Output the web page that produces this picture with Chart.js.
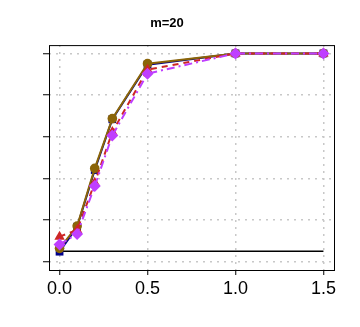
<!DOCTYPE html>
<html>
<head>
<meta charset="utf-8">
<script src="https://cdn.jsdelivr.net/npm/chart.js@4/dist/chart.umd.min.js"></script>
<style>
  html, body { margin: 0; padding: 0; background: #fff; }
  #wrap { width: 360px; height: 327px; }
</style>
</head>
<body>
<div id="wrap"><canvas id="chart" width="360" height="327"></canvas></div>
<script>
// values
const effectSizes = [0, 0.1, 0.2, 0.3, 0.5, 1.0, 1.5];
const blueSeries = [0.048, 0.168, 0.44, 0.684, 0.946, 1.0, 1.0];
const brownSeries = [0.064, 0.171, 0.448, 0.687, 0.951, 1.0, 1.0];
const redSeries = [0.12, 0.152, 0.379, 0.623, 0.922, 1.0, 1.0];
const purpleSeries = [0.083, 0.133, 0.363, 0.606, 0.903, 1.0, 1.0];
const alphaLevel = 0.05;
const xTicks = [0, 0.5, 1.0, 1.5];
const yTicks = [0, 0.2, 0.4, 0.6, 0.8, 1.0];

function toPoints(values) {
    return values.map((v, i) => ({ x: effectSizes[i], y: v }));
}

// box around the plotting region, like base R
const boxPlugin = {
    id: 'box',
    afterDraw(chart) {
        const a = chart.chartArea;
        const ctx = chart.ctx;
        ctx.save();
        ctx.strokeStyle = '#000';
        ctx.lineWidth = 1;
        ctx.strokeRect(a.left + 0.5, a.top + 0.5, a.right - a.left, a.bottom - a.top);
        ctx.restore();
    }
};

function series(data, color, shape, radius, dash, order) {
    return {
        data: toPoints(data),
        borderColor: color,
        backgroundColor: color,
        borderWidth: 2,
        borderDash: dash,
        pointStyle: shape,
        pointRadius: radius,
        pointBorderWidth: 0,
        pointBackgroundColor: color,
        order: order,
        tension: 0
    };
}

new Chart(document.getElementById('chart'), {
    type: 'line',
    data: {
        datasets: [
            {
                data: [{ x: effectSizes[0], y: alphaLevel }, { x: effectSizes[effectSizes.length - 1], y: alphaLevel }],
                borderColor: '#000',
                borderWidth: 1.5,
                pointRadius: 0,
                order: 5
            },
            series(blueSeries, '#00008B', 'rect', 5.5, [], 4),
            series(brownSeries, '#8B6508', 'circle', 4.8, [], 3),
            series(redSeries, '#CD2626', 'triangle', 6, [6, 5], 2),
            series(purpleSeries, '#BF3EFF', 'rectRot', 6, [8, 4, 2, 4], 1)
        ]
    },
    options: {
        responsive: false,
        animation: false,
        layout: { padding: { left: 0, right: 26, top: 0, bottom: 0 } },
        plugins: {
            legend: { display: false },
            tooltip: { enabled: false },
            title: {
                display: true,
                text: 'm=20',
                color: '#000',
                font: { family: 'Liberation Sans', size: 13, weight: 'bold' },
                padding: { top: 16, bottom: 13.5 }
            }
        },
        scales: {
            x: {
                type: 'linear',
                min: -0.06,
                max: 1.56,
                afterBuildTicks: s => { s.ticks = xTicks.map(v => ({ value: v })); },
                afterFit: s => { s.height = 57; },
                border: { display: false, dash: [2, 5] },
                grid: {
                    color: '#c8c8c8',
                    lineWidth: 1.5,
                    drawTicks: true,
                    tickLength: 5,
                    tickColor: '#000',
                    tickWidth: 1,
                    tickBorderDash: []
                },
                ticks: {
                    color: '#000',
                    font: { family: 'Liberation Sans', size: 18 },
                    padding: 3,
                    maxRotation: 0,
                    callback: v => v.toFixed(1)
                }
            },
            y: {
                type: 'linear',
                min: -0.04,
                max: 1.04,
                afterBuildTicks: s => { s.ticks = yTicks.map(v => ({ value: v })); },
                afterFit: s => { s.width = 49; },
                border: { display: false, dash: [2, 5] },
                grid: {
                    color: '#c8c8c8',
                    lineWidth: 1.5,
                    drawTicks: true,
                    tickLength: 6,
                    tickColor: '#000',
                    tickWidth: 1,
                    tickBorderDash: []
                },
                ticks: { display: false }
            }
        }
    },
    plugins: [boxPlugin]
});
</script>
</body>
</html>
